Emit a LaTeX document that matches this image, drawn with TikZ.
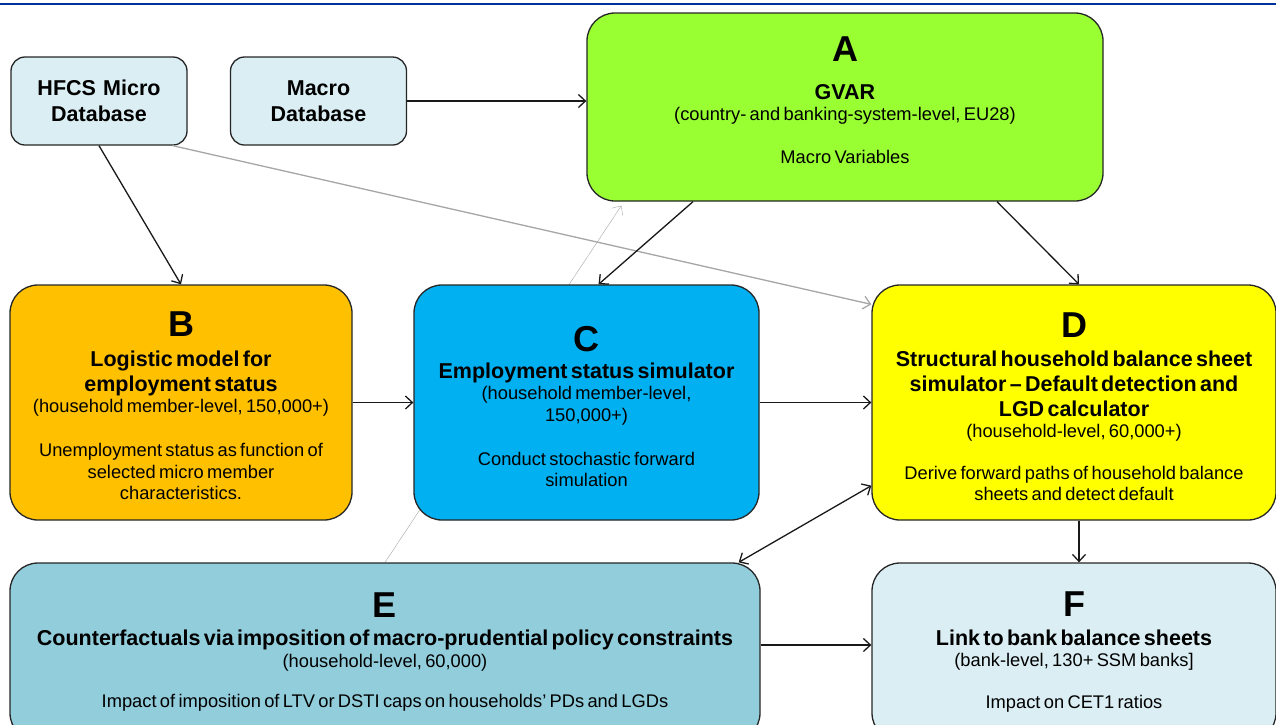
\documentclass[tikz,border=0pt]{standalone}
\usepackage{fontspec}
\setmainfont{Liberation Sans}
\usetikzlibrary{arrows.meta, positioning, backgrounds}

\definecolor{dbfill}{HTML}{DAEEF3}
\definecolor{gvarfill}{HTML}{99FF33}
\definecolor{logitfill}{HTML}{FFC000}
\definecolor{simfill}{HTML}{00B0F0}
\definecolor{hhfill}{HTML}{FFFF00}
\definecolor{cfactfill}{HTML}{92CDDC}
\definecolor{bankfill}{HTML}{DAEEF3}
\definecolor{rulecol}{HTML}{003399}
\definecolor{linkgray}{HTML}{A6A6A6}

\setlength{\parindent}{0pt}
\setlength{\parskip}{0pt}

\newcommand{\stageletter}[2][0pt]{{\fontsize{36}{40}\bfseries\rule{0pt}{#1}#2\par}}
\newcommand{\stagetitle}[2][3pt]{\vspace{#1}{\fontsize{21.5}{25}\bfseries #2\par}}
\newcommand{\stagenote}[1]{{\fontsize{18.3}{21.5}\selectfont #1\par}}

\begin{document}
\begin{tikzpicture}[x=1pt, y=-1pt, >={Straight Barb[length=7pt, width=13pt]}, line width=1.3pt,
    stage/.style={draw=black!85, rounded corners=28pt, align=center, inner sep=0pt},
    database/.style={stage, fill=dbfill, rounded corners=14pt, minimum width=176pt,
      minimum height=88pt, text width=170pt, font=\fontsize{21.5}{26}\bfseries},
    link/.style={->, black!90},
    faint/.style={->, linkgray}]
  \useasboundingbox (0,0) rectangle (1276,724);
  \draw[rulecol, line width=2pt] (0,3.7) -- (1276,3.7);

  % data sources
  \node[database] (hfcs) at (99,101) {HFCS Micro\\Database};
  \node[database] (macro) at (318.5,101) {Macro\\Database};

  % model blocks
  \node[stage, fill=gvarfill, minimum width=516pt, minimum height=188pt, text width=490pt] (gvar) at (845,107)
    {\stageletter{A}\stagetitle[13pt]{GVAR}\stagenote{(country- and banking-system-level, EU28)\\[21.5pt]Macro Variables\rule[-14pt]{0pt}{14pt}}};
  \node[stage, fill=logitfill, minimum width=342pt, minimum height=235pt, text width=330pt] (logit) at (181,402.5)
    {\stageletter[32pt]{B}\stagetitle[4.5pt]{Logistic model for\\employment status}\stagenote{(household member-level, 150,000+)\\[22.5pt]Unemployment status as function of\\selected micro member\\characteristics.}};
  \node[stage, fill=simfill, minimum width=345pt, minimum height=235pt, text width=330pt] (empsim) at (586.5,402.5)
    {\stageletter[34pt]{C}\stagetitle[1.5pt]{Employment status simulator}\stagenote{(household member-level,\\150,000+)\\[22.5pt]Conduct stochastic forward\\simulation}};
  \node[stage, fill=hhfill, minimum width=404pt, minimum height=235pt, text width=390pt] (hhsim) at (1074,402.5)
    {\stageletter[34pt]{D}\stagetitle[3.5pt]{Structural household balance sheet\\simulator – Default detection and\\LGD calculator}\stagenote{(household-level, 60,000+)\\[20pt]Derive forward paths of household balance\\sheets and detect default}};
  \node[stage, fill=cfactfill, minimum width=750pt, minimum height=178pt, text width=740pt] (cfact) at (385,652)
    {\stageletter{E}\stagetitle{Counterfactuals via imposition of macro-prudential policy constraints}\stagenote{(household-level, 60,000)\\[18.5pt]Impact of imposition of LTV or DSTI caps on households’ PDs and LGDs}};
  \node[stage, fill=bankfill, minimum width=404pt, minimum height=178pt, text width=390pt] (banks) at (1074,652)
    {\stageletter{F}\stagetitle[4pt]{Link to bank balance sheets}\stagenote{(bank-level, 130+ SSM banks]\\[20.5pt]Impact on CET1 ratios}};

  % connectors
  \draw[link] (macro.east) -- (macro.east -| gvar.west);
  \draw[link] (hfcs.south) -- (logit.north);
  \draw[faint] ([xshift=-15pt]hfcs.south east) -- ([yshift=-20pt]hhsim.north west);
  \draw[link] ([xshift=-152pt]gvar.south) -- ([xshift=12pt]empsim.north);
  \draw[link] ([xshift=152pt]gvar.south) -- ([xshift=5pt]hhsim.north);
  \draw[link] (logit.east) -- (empsim.west);
  \draw[link] (empsim.east) -- (hhsim.west);
  \draw[link, <->] ([yshift=35pt]hhsim.south west) -- ([xshift=-22pt]cfact.north east);
  \draw[link] ([xshift=5pt]hhsim.south) -- ([xshift=5pt]banks.north);
  \draw[link] ([yshift=7pt]cfact.east) -- ([yshift=7pt]banks.west);
  \begin{pgfonlayer}{background}
    \draw[faint] (cfact.north) -- ([xshift=35pt, yshift=-4pt]gvar.south west);
  \end{pgfonlayer}
\end{tikzpicture}
\end{document}
